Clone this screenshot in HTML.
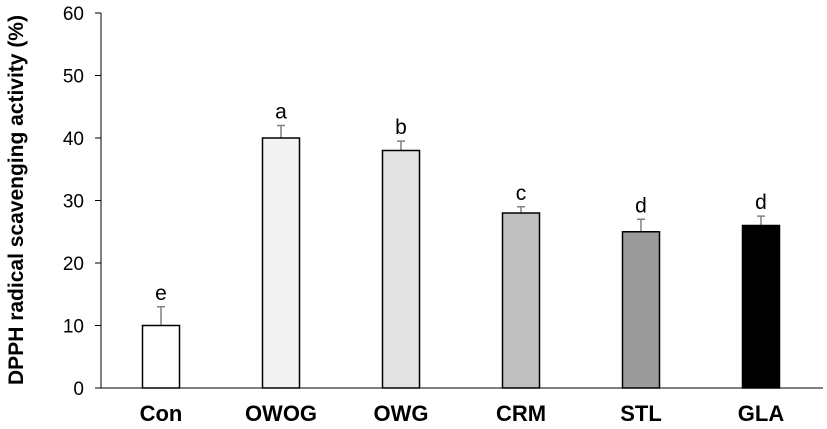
<!DOCTYPE html>
<html><head><meta charset="utf-8"><style>
body{margin:0;background:#fff}
svg{display:block;font-family:"Liberation Sans",Arial,sans-serif}
</style></head><body>
<svg id="chart" width="827" height="429" xmlns="http://www.w3.org/2000/svg">
<g id="axes"></g><g id="bars"></g>
<text transform="translate(23,200) rotate(-90)" text-anchor="middle" font-size="21" font-weight="bold">DPPH radical scavenging activity (%)</text>
</svg>
<script>
const categories=["Con","OWOG","OWG","CRM","STL","GLA"];
const values=[10,40,38,28,25,26];
const errors=[3,2,1.5,1,2,1.5];
const letters=["e","a","b","c","d","d"];
const fills=["#ffffff","#f3f3f3","#e3e3e3","#bfbfbf","#9b9b9b","#000000"];
const yTicks=[0,10,20,30,40,50,60];
const NS="http://www.w3.org/2000/svg";
const x0=101,x1=821,yBase=388,yTop=13,yMax=60;
const y=v=>yBase-(v/yMax)*(yBase-yTop);
const band=(x1-x0)/categories.length;
const xc=i=>x0+band*(i+0.5);
function mk(t,a,p){const e=document.createElementNS(NS,t);for(const k in a)e.setAttribute(k,a[k]);p.appendChild(e);return e;}
const axes=document.getElementById('axes'),bars=document.getElementById('bars');
let e=mk('line',{x1:x0,y1:yTop,x2:x0,y2:yBase,stroke:'#000','stroke-width':1},axes);

e=mk('line',{x1:x0,y1:yBase,x2:823,y2:yBase,stroke:'#000','stroke-width':1},axes);

yTicks.forEach(t=>{
 const l=mk('line',{x1:x0-6,y1:y(t),x2:x0,y2:y(t),stroke:'#000'},axes);
 
 
 const tx=mk('text',{x:x0-17,y:y(t)+7,'text-anchor':'end','font-size':19},axes);
 tx.textContent=t;
 
 
});
const bw=37;
categories.forEach((c,i)=>{
 const cx=xc(i);
 const top=y(values[i]),et=y(values[i]+errors[i]);
 const eb=mk('line',{x1:cx,y1:et,x2:cx,y2:top,stroke:'#808080','stroke-width':1.5},bars);
 
 
 const cap=mk('line',{x1:cx-4,y1:et,x2:cx+4,y2:et,stroke:'#808080','stroke-width':1.5},bars);
 
 
 const r=mk('rect',{x:cx-bw/2,y:top,width:bw,height:yBase-top,fill:fills[i],stroke:'#000','stroke-width':1.5},bars);
 
 
 const lt=mk('text',{x:cx,y:et-7,'text-anchor':'middle','font-size':21},bars);
 lt.textContent=letters[i];
 
 
 const cl=mk('text',{x:cx,y:421,'text-anchor':'middle','font-size':22,'font-weight':'bold'},bars);
 cl.textContent=c;
 
 
});
</script>
</body></html>
